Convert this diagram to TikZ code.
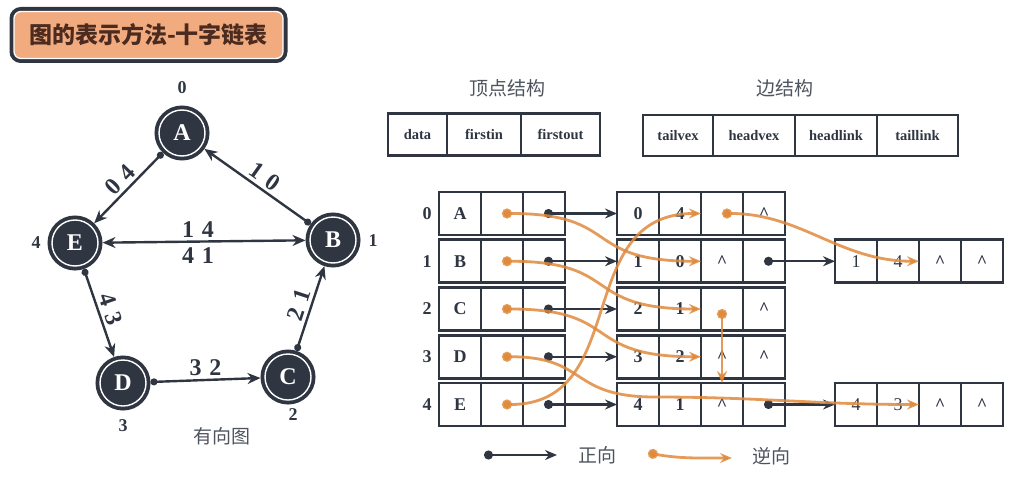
\documentclass[tikz,border=0pt]{standalone}
\usepackage{fontspec}
\setmainfont{Liberation Serif}
\newfontfamily\cjk{Noto Sans CJK SC}
\usetikzlibrary{arrows.meta}

\definecolor{ink}{HTML}{2F3642}
\definecolor{peach}{HTML}{F2AB7F}
\definecolor{rust}{HTML}{E08A3C}
\definecolor{titlebrown}{HTML}{4B2B1F}

\newcommand{\nil}{\textasciicircum}
\newcommand{\gap}{\hspace{8pt}}

\tikzset{
  cell/.style={draw=ink, line width=2.8pt, fill=white, minimum width=42pt, minimum height=43pt,
    inner sep=0pt, outer sep=0pt, text=ink, font=\fontsize{18}{18}\selectfont\bfseries},
  farcell/.style={cell, font=\fontsize{18}{18}\selectfont},
  head/.style={cell, minimum height=42pt, font=\fontsize{14.5}{14.5}\selectfont\bfseries},
  vtx/.style={circle, fill=ink, draw=white, line width=1.4pt, minimum size=46pt, inner sep=0pt,
    outer sep=4.5pt, preaction={draw=ink, line width=9pt}, text=white,
    font=\fontsize{24}{24}\selectfont\bfseries},
  idx/.style={text=ink, font=\fontsize{18}{18}\selectfont\bfseries},
  wlbl/.style={text=ink, font=\fontsize{24}{24}\selectfont\bfseries, inner sep=3pt},
  gedge/.style={draw=ink, line width=2.4pt, {Circle[length=7pt]}-{Stealth[length=13pt,width=11pt]}},
  fwd/.style={draw=ink, line width=2.2pt, {Circle[length=9pt]}-{Stealth[length=12pt,width=10pt]}},
  bwd/.style={draw=rust, line width=2.8pt, draw opacity=0.85, {Circle[length=10pt]}-{Stealth[length=12pt,width=10pt]}},
  zh/.style={text=ink!85, font=\cjk\fontsize{19}{19}\selectfont},
  ttl/.style={rounded corners=7pt, fill=peach, draw=white, line width=1.3pt,
    preaction={draw=ink, line width=9pt, rounded corners=7pt}, minimum width=269pt, minimum height=47pt,
    text=titlebrown, font=\cjk\fontsize{23}{23}\selectfont\bfseries}
}

\begin{document}
\begin{tikzpicture}[x=1pt, y=-1pt]
\useasboundingbox (0,0) rectangle (1016,476);

\node[ttl] (title) at (148.5,35) {图的表示方法-十字链表};

% directed graph
\node[vtx] (A) at (182,133) {A};
\node[vtx] (B) at (333,240) {B};
\node[vtx] (C) at (288,377) {C};
\node[vtx] (D) at (123,383) {D};
\node[vtx] (E) at (75,243) {E};
\node[idx] (iA) at (182,88) {0};
\node[idx] (iB) at (373,241) {1};
\node[idx] (iC) at (293,415) {2};
\node[idx] (iD) at (123,426) {3};
\node[idx] (iE) at (36,243) {4};

\draw[gedge] (A) -- node[wlbl, sloped, above] {0\gap4} (E);
\draw[gedge] (B) -- node[wlbl, sloped, above] {1\gap0} (A);
\draw[draw=ink, line width=2.4pt, {Stealth[length=13pt,width=11pt]}-{Stealth[length=13pt,width=11pt]}]
  (E) -- node[wlbl, above, xshift=-6pt] {1\gap4} node[wlbl, below=2pt, xshift=-6pt] {4\gap1} (B);
\draw[gedge] (E) -- node[wlbl, sloped, above] {4\gap3} (D);
\draw[gedge] (D) -- node[wlbl, above] {3\gap2} (C);
\draw[gedge] (C) -- node[wlbl, sloped, above] {2\gap1} (B);
\node[zh] (gcap) at (222,436) {有向图};

% node layouts
\node[zh] (vhead) at (507,88) {顶点结构};
\node[zh] (ehead) at (785,88) {边结构};
\node[head, minimum width=59pt] (sd) at (417.5,134.5) {data};
\node[head, minimum width=74pt, anchor=west] (si) at (sd.east) {firstin};
\node[head, minimum width=79pt, anchor=west] (so) at (si.east) {firstout};
\node[head, minimum width=70pt, minimum height=41pt] (st) at (678,135.5) {tailvex};
\node[head, minimum width=82pt, minimum height=41pt, anchor=west] (sh) at (st.east) {headvex};
\node[head, minimum width=82pt, minimum height=41pt, anchor=west] (shl) at (sh.east) {headlink};
\node[head, minimum width=81pt, minimum height=41pt, anchor=west] (stl) at (shl.east) {taillink};

% vertex list
\foreach \name [count=\i from 0] in {A,B,C,D,E} {
  \pgfmathsetmacro\yy{213.5+47.75*\i}
  \node[idx] (r\i) at (427,\yy) {\i};
  \node[cell] (vd\i) at (460,\yy) {\name};
  \node[cell] (vi\i) at (502,\yy) {};
  \node[cell] (vo\i) at (544,\yy) {};
}

% arc nodes
\foreach \t/\h/\hl/\tl [count=\i from 0] in {0/4/{}/\nil, 1/0/\nil/{}, 2/1/{}/\nil, 3/2/\nil/\nil, 4/1/\nil/{}} {
  \pgfmathsetmacro\yy{213.5+47.75*\i}
  \node[cell] (et\i) at (638,\yy) {\t};
  \node[cell] (eh\i) at (680,\yy) {\h};
  \node[cell] (ehl\i) at (722,\yy) {\hl};
  \node[cell] (etl\i) at (764,\yy) {\tl};
}
\foreach \t/\h/\n/\r in {1/4/5/1, 4/3/6/4} {
  \pgfmathsetmacro\yy{213.5+47.75*\r}
  \node[farcell] (et\n) at (856,\yy) {\t};
  \node[farcell] (eh\n) at (898,\yy) {\h};
  \node[cell] (ehl\n) at (940,\yy) {\nil};
  \node[cell] (etl\n) at (982,\yy) {\nil};
}

% out links
\foreach \i in {0,...,4}
  \draw[fwd] (vo\i.center) -- (et\i.west);
\draw[fwd] (etl1.center) -- (et5.west);
\draw[fwd] (etl4.center) -- (et6.west);

% in links
\draw[bwd] (vi0.center) to[out=0, in=180, looseness=1.5] (eh1.east);
\draw[bwd] (vi1.center) to[out=0, in=180, looseness=1.5] (eh2.east);
\draw[bwd] (vi2.center) to[out=0, in=180, looseness=1.5] (eh3.east);
\coordinate (dbend) at (655,397);
\draw[bwd] (vi3.center) to[out=0, in=180, looseness=1.4] (dbend) to[out=0, in=180] (eh6.east);
\draw[bwd] (vi4.center) to[out=0, in=180, looseness=1.2] (eh0.east);
\draw[bwd] (ehl0.center) to[out=0, in=180] (eh5.east);
\draw[bwd] (ehl2.center) -- (ehl4.north);

% legend
\coordinate (fs) at (484,455);
\coordinate (fe) at (557,455);
\draw[fwd] (fs) -- (fe);
\node[zh] (ftxt) at (597,455) {正向};
\coordinate (bs) at (648,453);
\coordinate (be) at (732,458);
\draw[bwd] (bs) to[out=-10, in=180] (be);
\node[zh] (btxt) at (771,456) {逆向};
\end{tikzpicture}
\end{document}
